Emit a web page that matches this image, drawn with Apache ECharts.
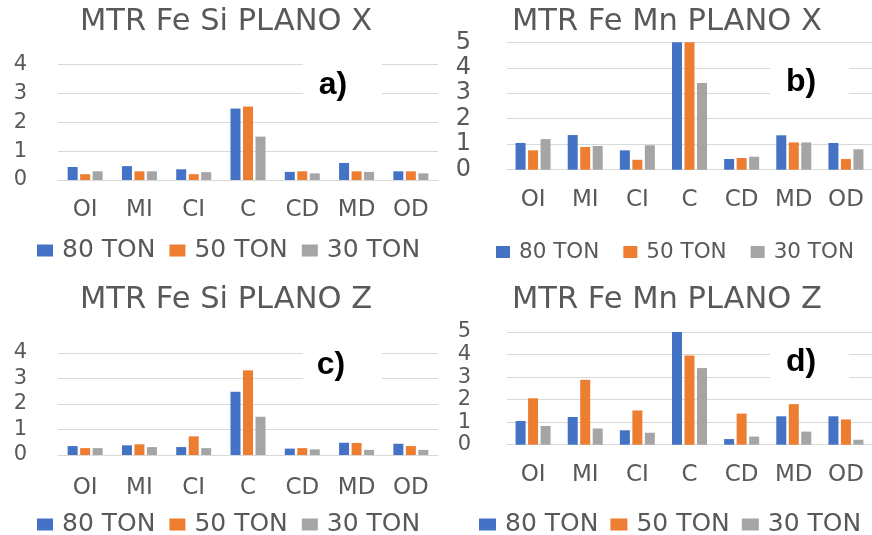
<!DOCTYPE html>
<html>
<head>
<meta charset="utf-8">
<script src="https://cdn.jsdelivr.net/npm/echarts@6/dist/echarts.min.js"></script>
<style>html,body{margin:0;padding:0;background:#fff;}#c{width:872px;height:535px;}</style>
</head>
<body>
<div id="c"></div>
<script>
const categories = ['OI','MI','CI','C','CD','MD','OD'];
const seriesNames = ['80 TON','50 TON','30 TON'];
const titles = ['MTR Fe Si PLANO X','MTR Fe Mn PLANO X','MTR Fe Si PLANO Z','MTR Fe Mn PLANO Z'];
const panelLabels = ['a)','b)','c)','d)'];
const siX80 = [0.45,0.48,0.37,2.47,0.28,0.59,0.30];
const siX50 = [0.20,0.30,0.20,2.54,0.30,0.30,0.30];
const siX30 = [0.30,0.30,0.27,1.50,0.23,0.28,0.23];
const mnX80 = [1.05,1.36,0.76,5.00,0.42,1.35,1.05];
const mnX50 = [0.76,0.89,0.39,5.00,0.46,1.07,0.42];
const mnX30 = [1.20,0.93,0.96,3.40,0.51,1.07,0.80];
const siZ80 = [0.35,0.38,0.31,2.48,0.25,0.48,0.44];
const siZ50 = [0.27,0.42,0.73,3.32,0.27,0.47,0.35];
const siZ30 = [0.27,0.31,0.27,1.50,0.22,0.20,0.20];
const mnZ80 = [1.05,1.23,0.64,5.00,0.25,1.26,1.26];
const mnZ50 = [2.06,2.88,1.52,3.96,1.38,1.80,1.12];
const mnZ30 = [0.83,0.72,0.53,3.40,0.36,0.58,0.22];
const yMax = [4,5,4,5];

const panelData = [[siX80,siX50,siX30],[mnX80,mnX50,mnX30],[siZ80,siZ50,siZ30],[mnZ80,mnZ50,mnZ30]];
const colors = ['#4472C4','#ED7D31','#A5A5A5'];
const FONT = 'DejaVu Sans';
const TXT = '#595959';

const grids = [
  {left:58, top:64.3, width:380, height:115.7},
  {left:507, top:42.3, width:373, height:127.4},
  {left:58, top:353, width:380, height:102},
  {left:507, top:332, width:373, height:112.7}
];
const yLabelSize = [21,24,21,21];
const yLabelLH = [20,22,20,18];
const yLabelMargin = [31,36,31,36];
const xLabelMargin = [19,19,22,19];
const titlePos = [{left:80,top:7},{left:512,top:7},{left:80,top:285},{left:512,top:285}];
const legendPos = [
  {left:37, top:238, fs:25, gap:14, w:16},
  {left:496, top:241, fs:21.5, gap:24, w:14},
  {left:37, top:512, fs:25, gap:14, w:16},
  {left:479, top:512, fs:25, gap:12, w:17}
];
const boxes = [
  {x:303,y:60,w:79,h:45,cx:333,cy:85},
  {x:770,y:53,w:79,h:52,cx:801,cy:82},
  {x:303,y:335,w:79,h:50,cx:331,cy:365},
  {x:770,y:333,w:79,h:47,cx:801,cy:362}
];

const option = {
  backgroundColor:'#fff',
  animation:false,
  color: colors,
  title: titles.map((t,i)=>({text:t, left:titlePos[i].left, top:titlePos[i].top, padding:0,
    textStyle:{fontFamily:FONT, fontSize:30.5, fontWeight:'normal', color:TXT}})),
  legend: legendPos.map((p,i)=>({data:seriesNames, left:p.left, top:p.top, padding:0,
    icon:'rect', itemWidth:p.w, itemHeight:12, itemGap:p.gap,
    textStyle:{fontFamily:FONT, fontSize:p.fs, color:TXT, padding:[0,0,0,4]}})),
  grid: grids,
  xAxis: grids.map((g,i)=>({type:'category', gridIndex:i, data:categories,
    axisTick:{show:false}, axisLine:{lineStyle:{color:'#D9D9D9'}},
    axisLabel:{fontFamily:FONT, fontSize:23, color:TXT, margin:xLabelMargin[i], interval:0}})),
  yAxis: grids.map((g,i)=>({type:'value', gridIndex:i, min:0, max:yMax[i], interval:1,
    axisLine:{show:false}, axisTick:{show:false},
    splitLine:{lineStyle:{color:'#D9D9D9'}},
    axisLabel:{fontFamily:FONT, fontSize:yLabelSize[i], lineHeight:yLabelLH[i], color:TXT, margin:yLabelMargin[i],
      showMinLabel:true, showMaxLabel:true, hideOverlap:false}})),
  series: [],
  graphic: []
};
panelData.forEach((arr,i)=>{
  arr.forEach((d,k)=>{
    option.series.push({type:'bar', name:seriesNames[k], xAxisIndex:i, yAxisIndex:i, data:d,
      barWidth:10, barGap:'25%', itemStyle:{color:colors[k]}});
  });
});
boxes.forEach((b,i)=>{
  option.graphic.push({type:'rect', z:100, shape:{x:b.x,y:b.y,width:b.w,height:b.h}, style:{fill:'#fff'}});
  option.graphic.push({type:'text', z:101, x:b.cx, y:b.cy, style:{text:panelLabels[i], fontFamily:'Liberation Sans', fontWeight:'bold', fontSize:32, fill:'#000', align:'center', verticalAlign:'middle'}});
});
const chart = echarts.init(document.getElementById('c'));
chart.setOption(option);
</script>
</body>
</html>
